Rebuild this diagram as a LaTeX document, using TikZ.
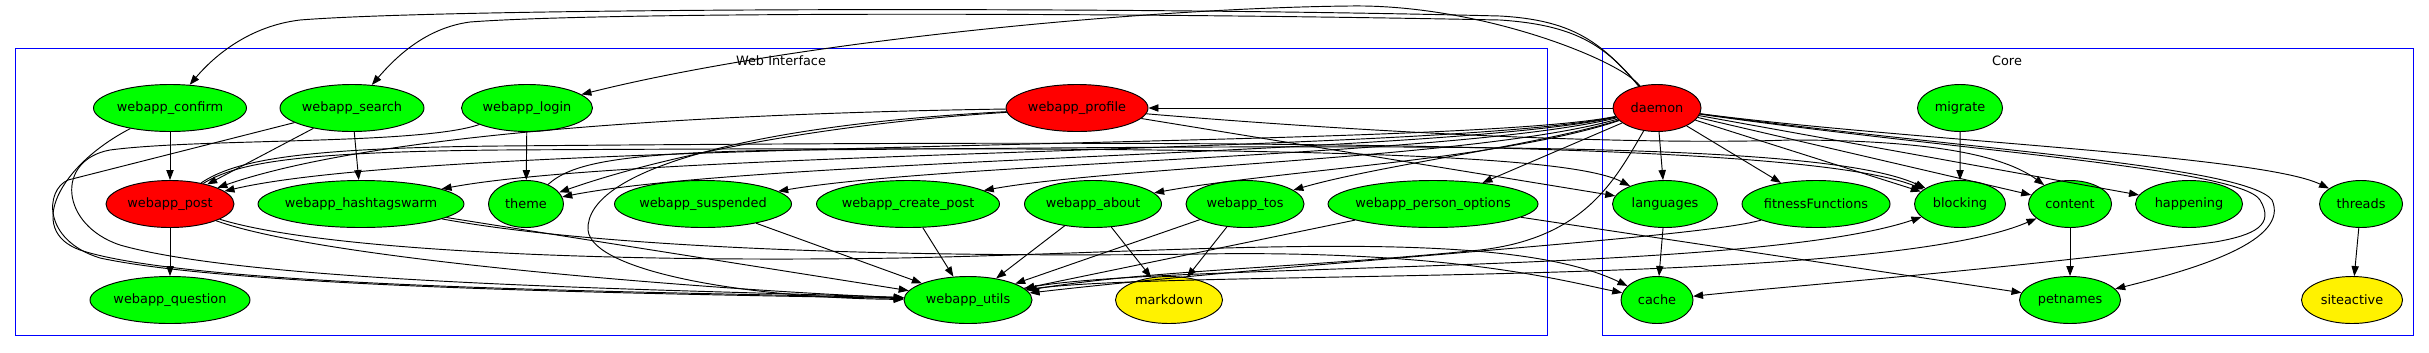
\documentclass[tikz,border=0pt]{standalone}
\usepackage{fontspec}
\setmainfont{DejaVu Sans}
\usetikzlibrary{shapes.geometric, positioning, arrows.meta}

\begin{document}
\begin{tikzpicture}[
				x=0.3mm, y=-0.3mm, node distance=2.88cm, on grid,
				line width=0.8pt, >={Triangle[length=3mm, width=2.2mm]},
				font=\fontsize{11}{13}\selectfont,
				module/.style={ellipse, draw, fill=green, inner sep=0pt, minimum height=1.41cm,
					execute at begin node={\hbox to 0pt\bgroup\hss}, execute at end node={\hss\egroup}},
				entry/.style={module, fill=red},
				external/.style={module, fill=yellow},
				cluster/.style={draw=blue, line width=0.7pt}
				]
				\useasboundingbox (0,0) rectangle (2429,352);
				\draw[cluster] (15.5,48) rectangle (1547,335);
				\draw[cluster] (1602,48) rectangle (2413,335);
				\node (webinterface) at (781,61) {Web Interface};
				\node (core) at (2007,61) {Core};

				\node[module, minimum width=4.59cm] (confirm) at (170,108) {webapp\_confirm};
				\node[module, minimum width=4.32cm] (search) [right=5.46cm of confirm] {webapp\_search};
				\node[module, minimum width=3.93cm] (login) [right=5.25cm of search] {webapp\_login};
				\node[entry, minimum width=4.26cm] (profile) [right=16.5cm of login] {webapp\_profile};
				\node[entry, minimum width=2.64cm] (daemon) [right=17.4cm of profile] {daemon};
				\node[module, minimum width=2.55cm] (migrate) [right=9.09cm of daemon] {migrate};

				\node[entry, minimum width=3.84cm] (post) [below=of confirm] {webapp\_post};
				\node[module, minimum width=6.18cm] (hashtags) [right=5.73cm of post] {webapp\_hashtagswarm};
				\node[module, minimum width=2.25cm] (theme) [right=4.95cm of hashtags] {theme};
				\node[module, minimum width=5.31cm] (suspended) [right=5.31cm of theme] {webapp\_suspended};
				\node[module, minimum width=5.49cm] (createpost) [right=6.15cm of suspended] {webapp\_create\_post};
				\node[module, minimum width=4.11cm] (about) [right=5.55cm of createpost] {webapp\_about};
				\node[module, minimum width=3.54cm] (tos) [right=4.56cm of about] {webapp\_tos};
				\node[module, minimum width=6.3cm] (personopts) [right=5.64cm of tos] {webapp\_person\_options};
				\node[module, minimum width=3.15cm] (languages) [right=6.96cm of personopts] {languages};
				\node[module, minimum width=4.44cm] (fitness) [right=4.53cm of languages] {fitnessFunctions};
				\node[module, minimum width=2.73cm] (blocking) [right=4.32cm of fitness] {blocking};
				\node[module, minimum width=2.49cm] (content) [right=3.3cm of blocking] {content};
				\node[module, minimum width=3.21cm] (happening) [right=3.57cm of content] {happening};
				\node[module, minimum width=2.49cm] (threads) [right=5.16cm of happening] {threads};

				\node[module, minimum width=4.8cm] (question) [below=of post] {webapp\_question};
				\node[module, minimum width=3.84cm] (utils) [below right=2.88cm and 1.8cm of createpost] {webapp\_utils};
				\node[external, minimum width=3.21cm] (markdown) [right=6.03cm of utils] {markdown};
				\node[module, minimum width=2.16cm] (cache) [below=5.76cm of daemon] {cache};
				\node[module, minimum width=3.03cm] (petnames) [below=of content] {petnames};
				\node[external, minimum width=3.03cm] (siteactive) [below left=2.88cm and 0.27cm of threads] {siteactive};

				\path[->]
				(confirm) edge (post)
				(search) edge (post)
				(search) edge (hashtags)
				(login) edge (theme)
				(post) edge (question)
				(daemon) edge (profile)
				(daemon) edge (personopts)
				(daemon) edge (languages)
				(daemon) edge (fitness)
				(daemon) edge (blocking)
				(daemon) edge (content)
				(daemon) edge (happening)
				(migrate) edge (blocking)
				(hashtags) edge (utils)
				(suspended) edge (utils)
				(createpost) edge (utils)
				(about) edge (utils)
				(about) edge (markdown)
				(tos) edge (utils)
				(tos) edge (markdown)
				(personopts) edge (utils)
				(personopts) edge (petnames)
				(profile) edge (languages)
				(languages) edge (cache)
				(content) edge (petnames)
				(threads) edge (siteactive);

				\draw[->] (daemon) .. controls (1600,40) and (1570,20) .. (1500,16) .. controls (1100,6) and (450,8) .. (300,20) .. controls (250,26) and (215,55) .. (confirm);
				\draw[->] (daemon) .. controls (1605,45) and (1575,25) .. (1500,20) .. controls (1100,12) and (600,12) .. (470,22) .. controls (425,28) and (395,58) .. (search);
				\draw[->] (daemon) .. controls (1620,60) and (1480,4) .. (1350,6) .. controls (1150,8) and (800,40) .. (login);
				\draw[->] (daemon) .. controls (1450,150) and (450,138) .. (post);
				\draw[->] (daemon) .. controls (1450,152) and (650,150) .. (hashtags);
				\draw[->] (daemon) .. controls (1450,154) and (760,158) .. (theme);
				\draw[->] (daemon) .. controls (1460,156) and (950,162) .. (suspended);
				\draw[->] (daemon) .. controls (1480,158) and (1120,166) .. (createpost);
				\draw[->] (daemon) .. controls (1500,160) and (1280,170) .. (about);
				\draw[->] (daemon) .. controls (1540,145) and (1380,165) .. (tos);
				\draw[->] (daemon) .. controls (1900,140) and (2260,155) .. (threads);
				\draw[->] (daemon) .. controls (1950,148) and (2245,165) .. (2272,200) .. controls (2290,240) and (2200,268) .. (petnames);
				\draw[->] (daemon) .. controls (1950,150) and (2240,168) .. (2260,200) .. controls (2275,225) and (2255,235) .. (2215,242) .. controls (2000,270) and (1800,285) .. (cache);
				\draw[->] (daemon) .. controls (1615,180) and (1585,238) .. (1480,250) .. controls (1300,268) and (1150,270) .. (utils);

				\draw[->] (confirm) .. controls (60,165) and (25,230) .. (80,250) .. controls (200,290) and (700,292) .. (utils);
				\draw[->] (search) -- (68,180) .. controls (45,190) and (42,240) .. (100,258) .. controls (250,290) and (700,294) .. (utils);
				\draw[->] (login) .. controls (420,145) and (200,138) .. (110,150) .. controls (55,160) and (60,225) .. (120,245) .. controls (260,285) and (700,290) .. (utils);
				\draw[->] (post) .. controls (330,262) and (750,292) .. (utils);
				\draw[->] (post) .. controls (320,250) and (600,263) .. (900,258) .. controls (1200,252) and (1500,225) .. (cache);
				\draw[->] (hashtags) .. controls (600,248) and (900,258) .. (1200,254) .. controls (1450,250) and (1560,280) .. (cache);
				\draw[->] (post) .. controls (235,160) and (300,148) .. (500,146) .. controls (1200,140) and (1800,140) .. (blocking);
				\draw[->] (post) .. controls (238,162) and (300,152) .. (500,150) .. controls (1200,146) and (1560,150) .. (languages);
				\draw[->] (theme) .. controls (570,165) and (610,152) .. (800,150) .. controls (1400,145) and (1820,140) .. (blocking);
				\draw[->] (profile) .. controls (1400,135) and (1650,145) .. (1790,140) .. controls (1950,140) and (2010,160) .. (content);
				\draw[->] (profile) .. controls (800,112) and (400,125) .. (post);
				\draw[->] (profile) .. controls (850,122) and (680,150) .. (theme);
				\draw[->] (profile) .. controls (750,125) and (585,170) .. (588,230) .. controls (592,272) and (750,298) .. (utils);
				\draw[->] (fitness) .. controls (1700,238) and (1300,262) .. (utils);
				\draw[->] (utils) .. controls (1150,262) and (1750,275) .. (blocking);
				\draw[->] (utils) .. controls (1150,268) and (1870,290) .. (content);
			\end{tikzpicture}
\end{document}
